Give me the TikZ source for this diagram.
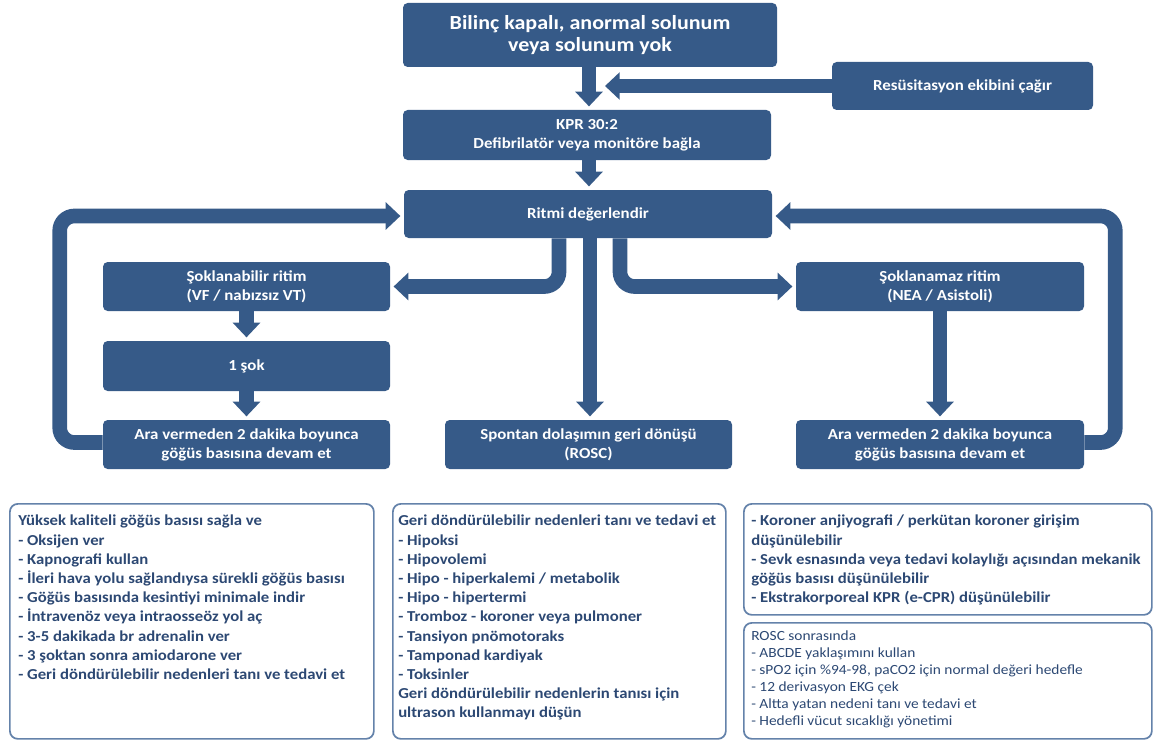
\documentclass[tikz,border=0pt]{standalone}
\usepackage{fontspec}
\setmainfont[FakeStretch=1.1]{Carlito}
\usetikzlibrary{arrows.meta}
\definecolor{boxblue}{RGB}{54,90,136}
\definecolor{txtblue}{RGB}{44,72,115}
\definecolor{panelline}{RGB}{100,130,170}
\begin{document}
\begin{tikzpicture}[x=0.75pt,y=-0.75pt,
  flowbox/.style 2 args={fill=boxblue, text=white, rounded corners=3.5pt,
    minimum width=#1*0.75pt, minimum height=#2*0.75pt, align=center,
    inner sep=0pt, font=\bfseries\fontsize{11.5}{14.2}\selectfont},
  flow/.style={draw=boxblue, line width=11pt, shorten >=2.5pt,
    -{Triangle[width=20pt,length=11pt]}},
  panel/.style 2 args={draw=panelline, line width=1.3pt, rounded corners=6pt,
    minimum width=#1*0.75pt, minimum height=#2*0.75pt, anchor=north west, inner sep=0pt},
  boldtext/.style={anchor=north west, align=left, inner sep=0pt, text=txtblue,
    font=\bfseries\fontsize{11.4}{14.4}\selectfont},
  plaintext/.style={anchor=north west, align=left, inner sep=0pt, text=txtblue,
    font=\fontsize{10.5}{12.75}\selectfont}]
\useasboundingbox (0,0) rectangle (1154,742);

% flowchart boxes
\node[flowbox={374}{64}, font=\bfseries\fontsize{15}{17}\selectfont] (top) at (590,35)
  {Bilinç kapalı, anormal solunum\\veya solunum yok};
\node[flowbox={261}{48}] (resus) at (962.5,86) {Resüsitasyon ekibini çağır};
\node[flowbox={368}{50}] (kpr) at (587,135) {KPR 30:2\\Defibrilatör veya monitöre bağla};
\node[flowbox={368}{48}] (ritmi) at (588,214) {Ritmi değerlendir};
\node[flowbox={287}{49}] (sokB) at (246.5,286.5) {Şoklanabilir ritim\\(VF / nabızsız VT)};
\node[flowbox={287}{50}] (sok1) at (246.5,366) {1 şok};
\node[flowbox={287}{49}] (araL) at (246.5,444.5) {Ara vermeden 2 dakika boyunca\\göğüs basısına devam et};
\node[flowbox={287}{49}] (rosc) at (588.5,444.5) {Spontan dolaşımın geri dönüşü\\(ROSC)};
\node[flowbox={288}{49}] (sokN) at (940,286.5) {Şoklanamaz ritim\\(NEA / Asistoli)};
\node[flowbox={288}{49}] (araR) at (940,444.5) {Ara vermeden 2 dakika boyunca\\göğüs basısına devam et};

% connectors
\coordinate (j1) at (605,86);
\draw[flow] (top.south -| 589,0) -- (kpr.north -| 589,0);
\draw[flow, shorten >=0pt] (resus.west) -- (j1);
\draw[flow] (kpr.south -| 589,0) -- (ritmi.north -| 589,0);
\draw[flow, rounded corners=11pt] ([xshift=-21.75pt]ritmi.south) |- (sokB.east);
\draw[flow, rounded corners=11pt] ([xshift=24pt]ritmi.south) |- (sokN.west);
\draw[flow] (ritmi.south -| 590,0) -- (rosc.north -| 590,0);
\draw[flow] (sokB.south) -- (sok1.north);
\draw[flow] (sok1.south) -- (araL.north);
\draw[flow] (sokN.south) -- (araR.north);
\draw[flow, rounded corners=11pt] ([yshift=1.5pt]araL.west) -- ++(-43,0) |- ([yshift=-1.5pt]ritmi.west);
\draw[flow, rounded corners=11pt] ([yshift=1.5pt]araR.east) -- ++(31,0) |- ([yshift=-1.5pt]ritmi.east);

% bottom panels
\node[panel={364}{235}] (p1) at (9,503) {};
\node[panel={333}{235}] (p2) at (392,503) {};
\node[panel={408}{111}] (p3) at (743,503) {};
\node[panel={408}{116}] (p4) at (743,622) {};

\node[boldtext] (t1) at ([shift={(9,12)}]p1.north west) {Yüksek kaliteli göğüs basısı sağla ve\\
- Oksijen ver\\
- Kapnografi kullan\\
- İleri hava yolu sağlandıysa sürekli göğüs basısı\\
- Göğüs basısında kesintiyi minimale indir\\
- İntravenöz veya intraosseöz yol aç\\
- 3-5 dakikada br adrenalin ver\\
- 3 şoktan sonra amiodarone ver\\
- Geri döndürülebilir nedenleri tanı ve tedavi et};

\node[boldtext] (t2) at ([shift={(6,12)}]p2.north west) {Geri döndürülebilir nedenleri tanı ve tedavi et\\
- Hipoksi\\
- Hipovolemi\\
- Hipo - hiperkalemi / metabolik\\
- Hipo - hipertermi\\
- Tromboz - koroner veya pulmoner\\
- Tansiyon pnömotoraks\\
- Tamponad kardiyak\\
- Toksinler\\
Geri döndürülebilir nedenlerin tanısı için\\
ultrason kullanmayı düşün};

\node[boldtext] (t3) at ([shift={(8,12)}]p3.north west) {- Koroner anjiyografi / perkütan koroner girişim\\
düşünülebilir\\
- Sevk esnasında veya tedavi kolaylığı açısından mekanik\\
göğüs basısı düşünülebilir\\
- Ekstrakorporeal KPR (e-CPR) düşünülebilir};

\node[plaintext] (t4) at ([shift={(8,9)}]p4.north west) {ROSC sonrasında\\
- ABCDE yaklaşımını kullan\\
- sPO2 için \%94-98, paCO2 için normal değeri hedefle\\
- 12 derivasyon EKG çek\\
- Altta yatan nedeni tanı ve tedavi et\\
- Hedefli vücut sıcaklığı yönetimi};
\end{tikzpicture}
\end{document}
